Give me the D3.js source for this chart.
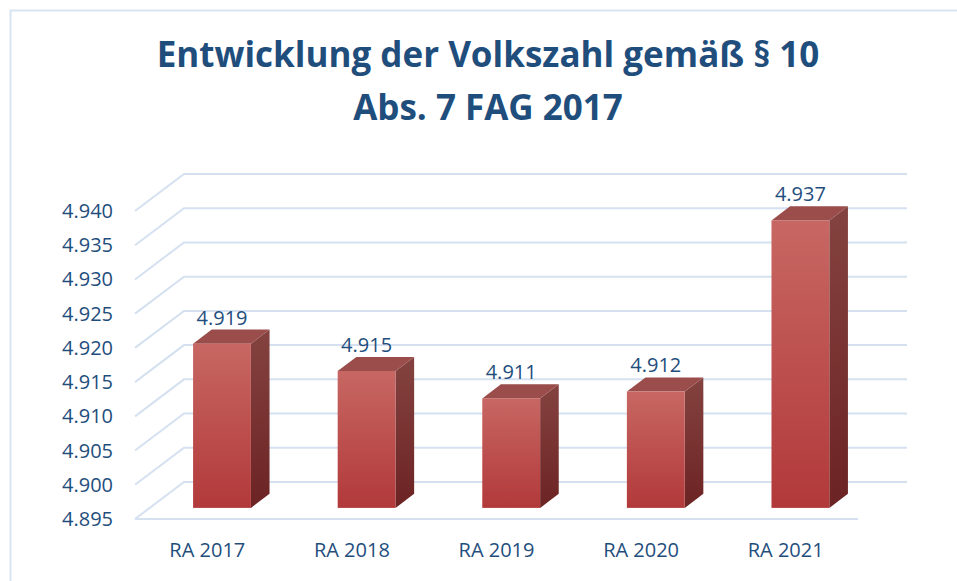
<!DOCTYPE html>
<html>
  <head>
    <title>Volkszahl</title>
    <style>
      body { margin: 0; background: #fff; }
      text { font-family: "Open Sans", sans-serif; }
    </style>
  </head>
  <body>
    <div id="chart"></div>
  </body>
  <script src="https://d3js.org/d3.v7.min.js"></script>
  <script>

    // data
    let categories = ["RA 2017", "RA 2018", "RA 2019", "RA 2020", "RA 2021"];
    let values = [4.919, 4.915, 4.911, 4.912, 4.937];
    let ticks = [4.895, 4.900, 4.905, 4.910, 4.915, 4.920, 4.925, 4.930, 4.935, 4.940];
    let titleLines = ["Entwicklung der Volkszahl gemäß § 10", "Abs. 7 FAG 2017"];

    let width = 957, height = 581;
    let textColor = "#1f4e7d";
    let gridColor = "#d5e1f0";

    // front plane of the 3d box
    let x0 = 135, x1 = 858, yBottom = 519, yTop = 211;
    // depth offset of the back wall
    let depthX = 49, depthY = -37;
    // bar sits between these fractions of the depth
    let zFront = 0.3, zBack = 0.68;

    let xScale = d3.scaleBand()
      .domain(categories)
      .range([x0, x1])
      .paddingInner(0.6)
      .paddingOuter(0.3);
    let yScale = d3.scaleLinear()
      .domain([4.895, 4.940])
      .range([yBottom, yTop]);

    // project a point (x on front plane, y on front plane, depth z)
    function p(x, y, z) {
      return [x + depthX * z, y + depthY * z];
    }
    function poly(pts) {
      return pts.map(d => d.join(",")).join(" ");
    }

    let svg = d3.select("#chart").append("svg")
      .attr("width", width)
      .attr("height", height);

    let defs = svg.append("defs");
    let gFront = defs.append("linearGradient").attr("id", "front")
      .attr("x1", 0).attr("y1", 0).attr("x2", 0).attr("y2", 1);
    gFront.append("stop").attr("offset", "0%").attr("stop-color", "#c76763");
    gFront.append("stop").attr("offset", "100%").attr("stop-color", "#b2393a");
    let gSide = defs.append("linearGradient").attr("id", "side")
      .attr("x1", 0).attr("y1", 0).attr("x2", 0).attr("y2", 1);
    gSide.append("stop").attr("offset", "0%").attr("stop-color", "#844340");
    gSide.append("stop").attr("offset", "100%").attr("stop-color", "#6c2323");

    // outer border
    svg.append("path")
      .attr("d", "M10.5," + height + "V10.5H" + width)
      .attr("fill", "none")
      .attr("stroke", "#d9e4f1")
      .attr("stroke-width", 2);

    // title
    svg.append("g").selectAll("text")
      .data(titleLines)
      .enter().append("text")
      .attr("x", 488)
      .attr("y", (d, i) => 67 + i * 53)
      .attr("text-anchor", "middle")
      .attr("font-size", 35)
      .attr("font-weight", "bold")
      .attr("fill", textColor)
      .text(d => d);

    // grid: side wall diagonals and back wall lines
    let grid = svg.append("g")
      .attr("stroke", gridColor)
      .attr("stroke-width", 2)
      .attr("fill", "none");
    ticks.forEach(function(t) {
      let a = p(x0, yScale(t), 0), b = p(x0, yScale(t), 1), c = p(x1, yScale(t), 1);
      grid.append("polyline").attr("points", poly([a, b, c]));
    });
    grid.append("line")
      .attr("x1", x0).attr("x2", x1)
      .attr("y1", yBottom).attr("y2", yBottom);

    // y axis labels
    svg.append("g").selectAll("text")
      .data(ticks)
      .enter().append("text")
      .attr("x", 113)
      .attr("y", d => yScale(d) + 7)
      .attr("text-anchor", "end")
      .attr("font-size", 20)
      .attr("fill", textColor)
      .text(d => d3.format(".3f")(d));

    // x axis labels
    svg.append("g").selectAll("text")
      .data(categories)
      .enter().append("text")
      .attr("x", d => xScale(d) + xScale.bandwidth() / 2)
      .attr("y", 557)
      .attr("text-anchor", "middle")
      .attr("font-size", 20)
      .attr("fill", textColor)
      .text(d => d);

    // bars
    let bars = svg.append("g").selectAll("g")
      .data(categories.map((c, i) => ({cat: c, value: values[i]})))
      .enter().append("g");

    bars.each(function(d) {
      let g = d3.select(this);
      let xl = xScale(d.cat), xr = xl + xScale.bandwidth();
      let yt = yScale(d.value), yb = yScale(4.895);
      // side
      g.append("polygon")
        .attr("points", poly([p(xr, yt, zFront), p(xr, yt, zBack), p(xr, yb, zBack), p(xr, yb, zFront)]))
        .attr("fill", "url(#side)");
      // top
      g.append("polygon")
        .attr("points", poly([p(xl, yt, zFront), p(xl, yt, zBack), p(xr, yt, zBack), p(xr, yt, zFront)]))
        .attr("fill", "#9a4d4a");
      // front
      let f0 = p(xl, yt, zFront), f1 = p(xr, yb, zFront);
      g.append("rect")
        .attr("x", f0[0]).attr("y", f0[1])
        .attr("width", f1[0] - f0[0]).attr("height", f1[1] - f0[1])
        .attr("fill", "url(#front)");
      // value label
      let lab = p((xl + xr) / 2, yt, zBack);
      g.append("text")
        .attr("x", (xl + xr) / 2 + depthX * zFront)
        .attr("y", lab[1] - 5)
        .attr("text-anchor", "middle")
        .attr("font-size", 20)
        .attr("fill", textColor)
        .text(d3.format(".3f")(d.value));
    });

  </script>
</html>
